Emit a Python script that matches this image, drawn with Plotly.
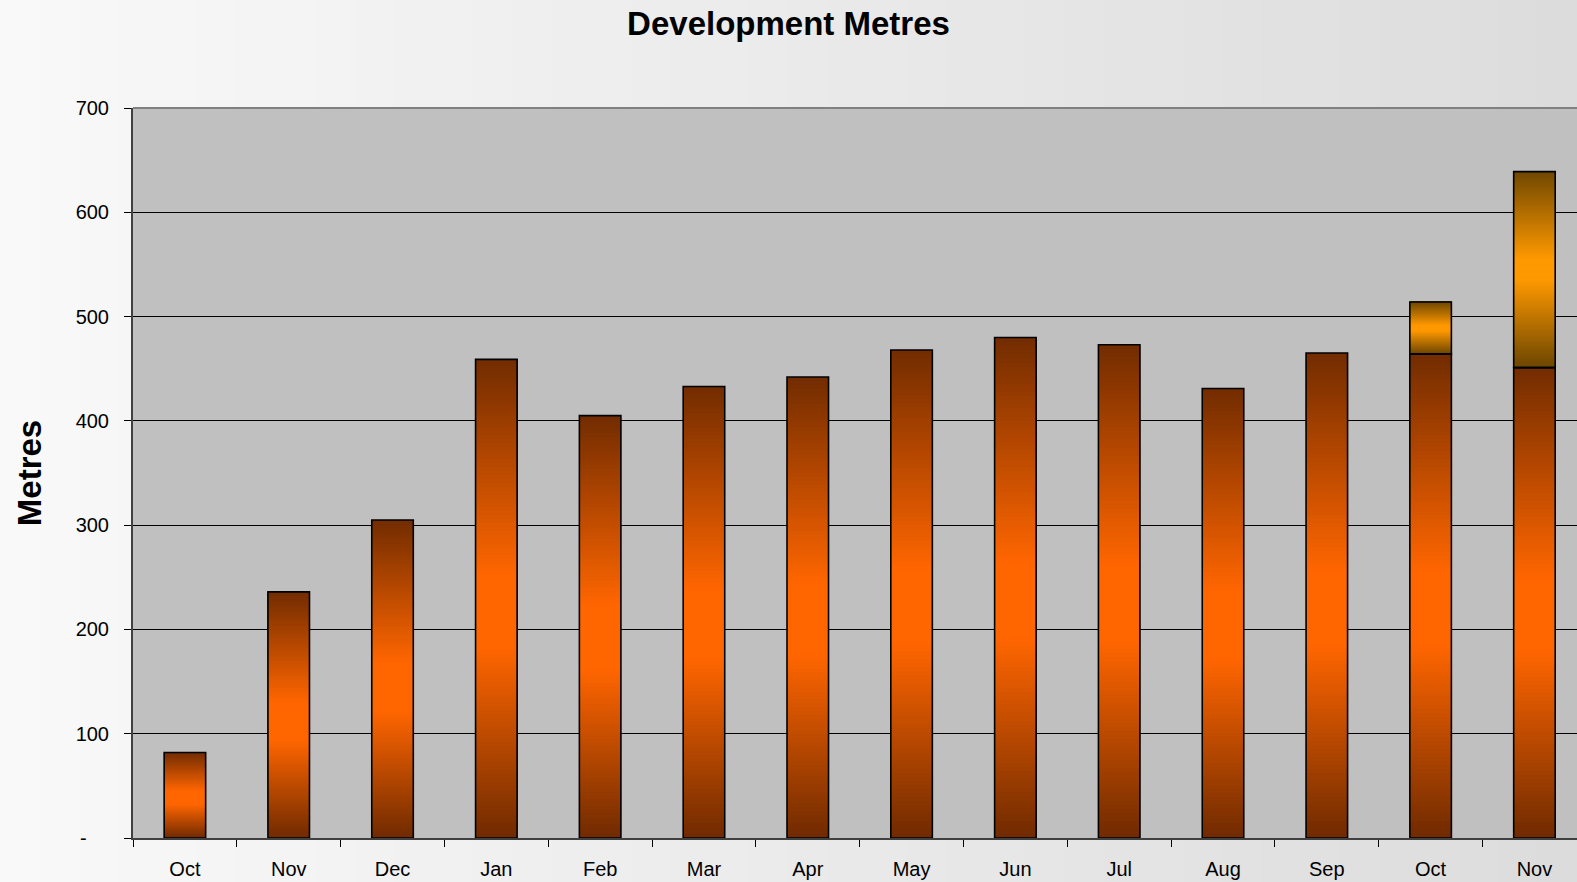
import plotly.graph_objects as go

# ---- data ----
months = ["Oct", "Nov", "Dec", "Jan", "Feb", "Mar", "Apr", "May", "Jun", "Jul", "Aug", "Sep", "Oct", "Nov"]
metres_main = [82, 236, 305, 459, 405, 433, 442, 468, 480, 473, 431, 465, 464, 451]
metres_extra = [None] * 12 + [50, 188]
y_ticks = [0, 100, 200, 300, 400, 500, 600, 700]
y_ticktext = ["-\u00a0\u00a0\u00a0\u00a0", "100", "200", "300", "400", "500", "600", "700"]

x = list(range(len(months)))
BAR_W = 0.4
N = 120

def grad(stops, t):
    for (t0, c0), (t1, c1) in zip(stops[:-1], stops[1:]):
        if t0 <= t <= t1:
            f = 0 if t1 == t0 else (t - t0) / (t1 - t0)
            c = [round(a + (b - a) * f) for a, b in zip(c0, c1)]
            return "rgb(%d,%d,%d)" % tuple(c)
    c = stops[-1][1]
    return "rgb(%d,%d,%d)" % tuple(c)

main_stops = [(0.0, (112, 42, 0)), (0.40, (255, 102, 0)), (0.55, (255, 102, 0)), (1.0, (114, 44, 0))]
extra_stops = [(0.0, (108, 70, 0)), (0.45, (255, 153, 0)), (0.55, (255, 153, 0)), (1.0, (112, 72, 0))]

fig = go.Figure()

# main series gradient slices
for i in range(N):
    bases = [v * i / N for v in metres_main]
    heights = [v - b for v, b in zip(metres_main, bases)]
    fig.add_trace(go.Bar(x=x, y=heights, base=bases, width=BAR_W,
                         marker=dict(color=grad(main_stops, (i + 0.5) / N), line=dict(width=0)),
                         hoverinfo="skip", showlegend=False))
# extra series gradient slices
for i in range(N):
    bases, heights = [], []
    for m, e in zip(metres_main, metres_extra):
        if e is None:
            bases.append(None); heights.append(None)
        else:
            b = m + e * i / N
            bases.append(b); heights.append(m + e - b)
    fig.add_trace(go.Bar(x=x, y=heights, base=bases, width=BAR_W,
                         marker=dict(color=grad(extra_stops, (i + 0.5) / N), line=dict(width=0)),
                         hoverinfo="skip", showlegend=False))
# outlines
fig.add_trace(go.Bar(x=x, y=metres_main, base=[0] * len(x), width=BAR_W, name="Development",
                     marker=dict(color="rgba(0,0,0,0)", line=dict(color="#000000", width=1.6)),
                     showlegend=False))
fig.add_trace(go.Bar(x=x, y=metres_extra, base=metres_main, width=BAR_W, name="Additional",
                     marker=dict(color="rgba(0,0,0,0)", line=dict(color="#000000", width=1.6)),
                     showlegend=False))

W, H = 1577, 882
ML, MR, MT, MB = 133, 0, 108, 44
pw, ph = W - ML - MR, H - MT - MB

# background horizontal gradient bands
shapes = []
nb = 40
x_left = -ML / pw
for k in range(nb):
    t = (k + 0.5) / nb
    g = round(249 + (220 - 249) * t)
    x0 = x_left + (1 - x_left) * k / nb
    x1 = x_left + (1 - x_left) * (k + 1) / nb + 0.002
    shapes.append(dict(type="rect", xref="paper", yref="paper", x0=x0, x1=x1,
                       y0=-MB / ph - 0.01, y1=1 + MT / ph + 0.01, layer="below",
                       fillcolor="rgb(%d,%d,%d)" % (g, g, g), line=dict(width=0)))
shapes.append(dict(type="rect", xref="paper", yref="paper", x0=0, x1=1, y0=0, y1=1,
                   layer="below", fillcolor="#C0C0C0", line=dict(width=0)))
shapes.append(dict(type="line", xref="paper", yref="paper", x0=0, x1=1, y0=1, y1=1,
                   layer="above", line=dict(color="#808080", width=2)))

fig.update_layout(
    width=W, height=H,
    margin=dict(l=ML, r=MR, t=MT, b=MB, autoexpand=False),
    barmode="overlay",
    paper_bgcolor="#F9F9F9",
    plot_bgcolor="#C0C0C0",
    shapes=shapes,
    font=dict(family="Arial, Liberation Sans, sans-serif", color="#000000"),
    title=dict(text="<b>Development Metres</b>", x=0.5, xanchor="center", y=1 - 23 / H, yanchor="middle",
               font=dict(size=33, family="Arial, Liberation Sans, sans-serif", color="#000000")),
    xaxis=dict(range=[-0.5, 13.41], tickmode="array", tickvals=x, ticktext=months,
               ticks="", tickfont=dict(size=20), ticklabelstandoff=12,
               showgrid=False, zeroline=False, showline=True, linecolor="#404040", linewidth=2,
               automargin=False,
               minor=dict(tickmode="array", tickvals=[i - 0.5 for i in range(len(x) + 1)],
                          ticks="outside", ticklen=7, tickwidth=1, tickcolor="#000000", showgrid=False)),
    yaxis=dict(range=[0, 700], tickmode="array", tickvals=y_ticks, ticktext=y_ticktext,
               ticks="outside", ticklen=7, tickwidth=1, tickcolor="#000000",
               tickfont=dict(size=20), ticklabelstandoff=11,
               showgrid=True, gridcolor="#000000", gridwidth=1, zeroline=False,
               showline=True, linecolor="#404040", linewidth=2, automargin=False,
               title=dict(text="<b>Metres</b>", font=dict(size=33), standoff=24)),
)

fig.write_html("out.html")
